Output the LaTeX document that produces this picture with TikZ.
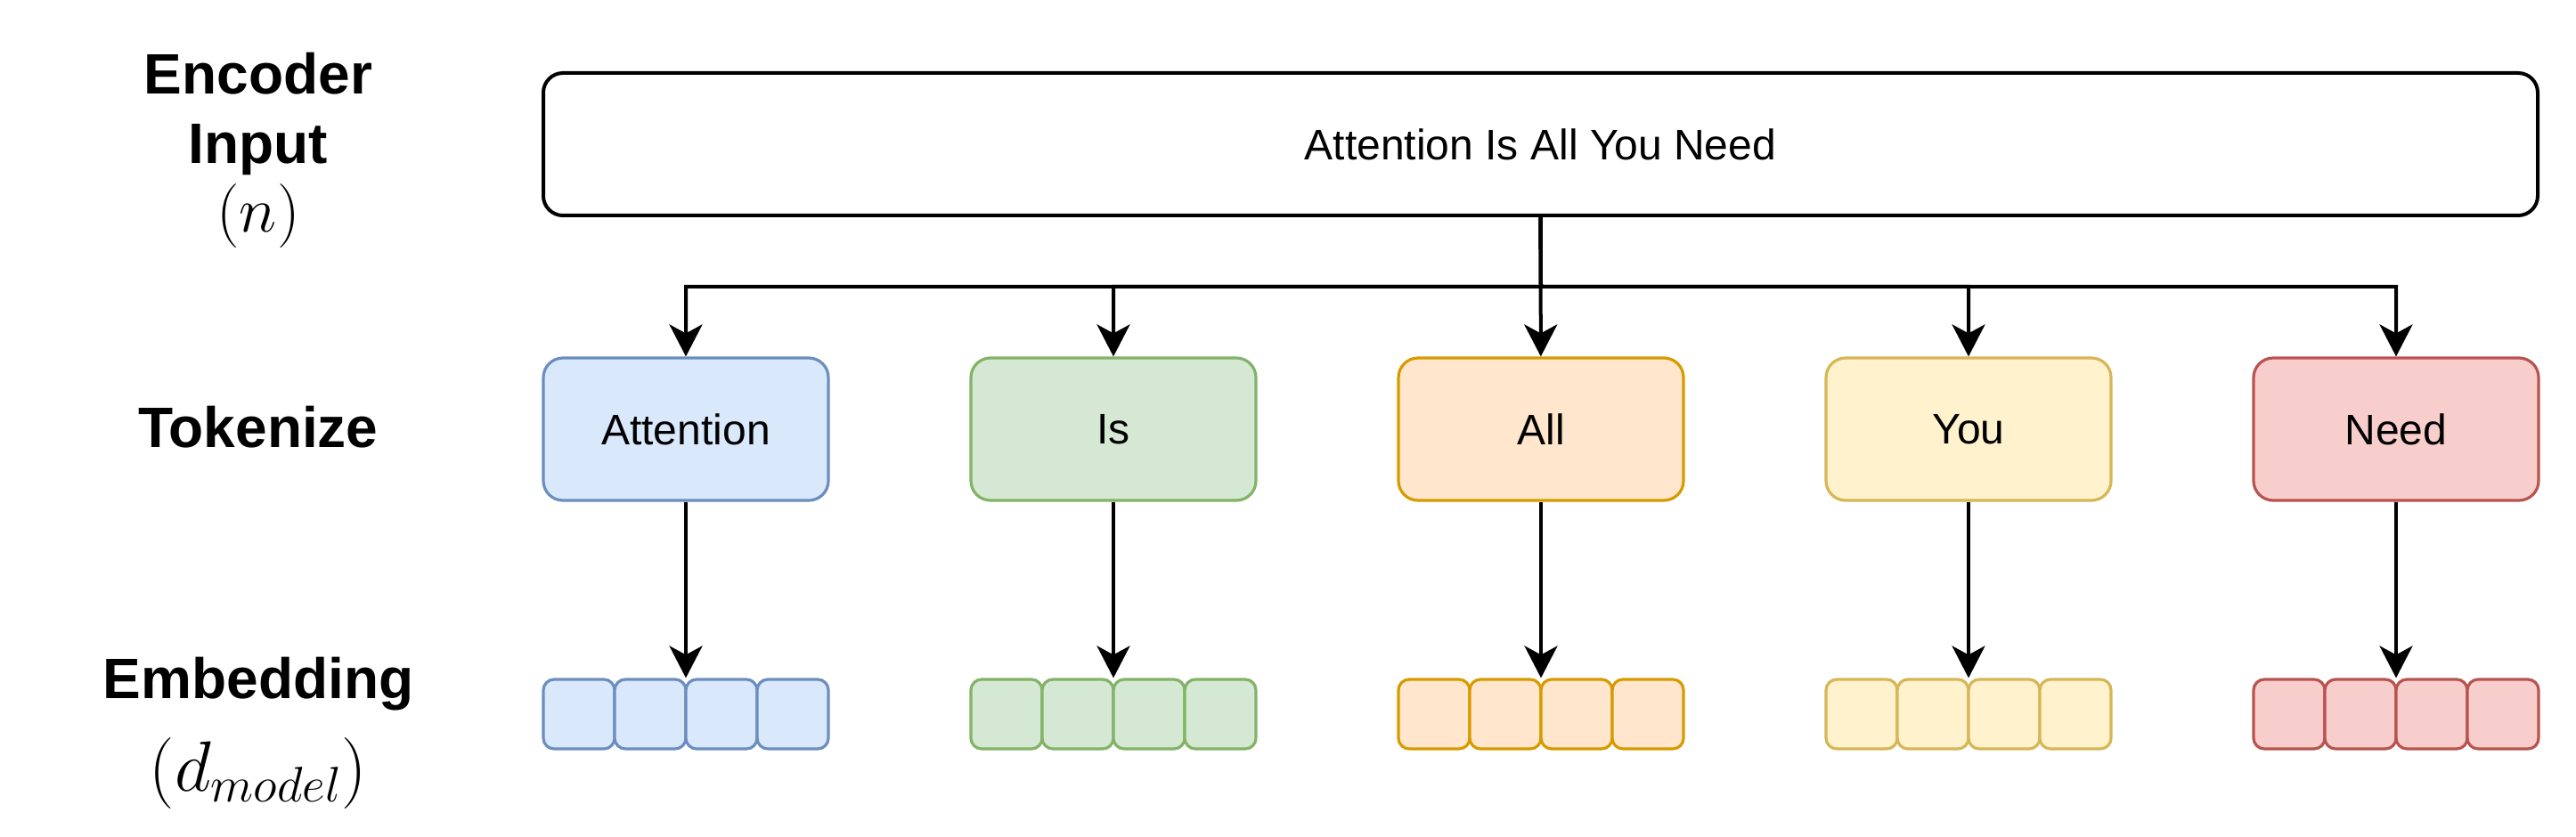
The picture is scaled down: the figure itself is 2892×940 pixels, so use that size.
\RequirePackage{fix-cm}
\documentclass[tikz,border=0pt]{standalone}
\usepackage{fontspec}
\setmainfont{Liberation Sans}
\usetikzlibrary{arrows.meta}
\definecolor{blueF}{HTML}{DAE8FC}\definecolor{blueD}{HTML}{6C8EBF}
\definecolor{greenF}{HTML}{D5E8D4}\definecolor{greenD}{HTML}{82B366}
\definecolor{orangeF}{HTML}{FFE6CC}\definecolor{orangeD}{HTML}{D79B00}
\definecolor{yellowF}{HTML}{FFF2CC}\definecolor{yellowD}{HTML}{D6B656}
\definecolor{redF}{HTML}{F8CECC}\definecolor{redD}{HTML}{B85450}
\begin{document}
\begin{tikzpicture}[x=0.5pt,y=-0.5pt,
  txt/.style={font=\fontsize{24}{28}\selectfont},
  lbl/.style={font=\fontsize{32}{38}\selectfont\bfseries, inner sep=0pt},
  mlbl/.style={font=\fontsize{36}{42}\selectfont, inner sep=0pt},
  mlblb/.style={font=\fontsize{40}{46}\selectfont, inner sep=0pt},
  tok/.style={draw, rounded corners=11pt, minimum width=160pt, minimum height=80pt, line width=1.6pt, txt},
  cellbox/.style={draw, rounded corners=6pt, minimum width=40pt, minimum height=39pt, inner sep=0pt, line width=1.6pt},
  arr/.style={-{Stealth[length=18pt,width=18.5pt,inset=5pt]}, line width=2pt}]
\useasboundingbox (0,0) rectangle (2892,940);

\node[lbl] (l1) at (290,83) {Encoder};
\node[lbl] (l2) at (290,168) {Input};
\node[mlbl] (l3) at (290,243) {$(n)$};
\node[lbl] (l4) at (290,480) {Tokenize};
\node[lbl] (l5) at (290,768) {Embedding};
\node[mlblb] (l6) at (290,868) {$(d_{model})$};

\node[draw, rounded corners=11pt, line width=2pt, minimum width=1119.5pt, minimum height=80pt, txt] (top) at (1729.5,162) {Attention Is All You Need};

\foreach \i/\name/\fc/\dc/\xc in {1/Attention/blueF/blueD/770, 2/Is/greenF/greenD/1250, 3/All/orangeF/orangeD/1730, 4/You/yellowF/yellowD/2210, 5/Need/redF/redD/2690}{
  \node[tok, fill=\fc, draw=\dc] (t\i) at (\xc,482) {\name};
  \foreach \j/\dx in {1/-120,2/-40,3/40,4/120}{
    \node[cellbox, fill=\fc, draw=\dc] (e\i\j) at ({\xc+\dx},802) {};
  }
}

\coordinate (bus) at (1730,322);
\draw[arr] (top.south) -- (t3);
\foreach \i in {1,2,4,5}{
  \draw[arr] (top.south) -- (bus) -| (t\i);
}
\foreach \i in {1,...,5}{
  \draw[arr] (t\i.south) -- (t\i.south |- e\i2.north);
}
\end{tikzpicture}
\end{document}
